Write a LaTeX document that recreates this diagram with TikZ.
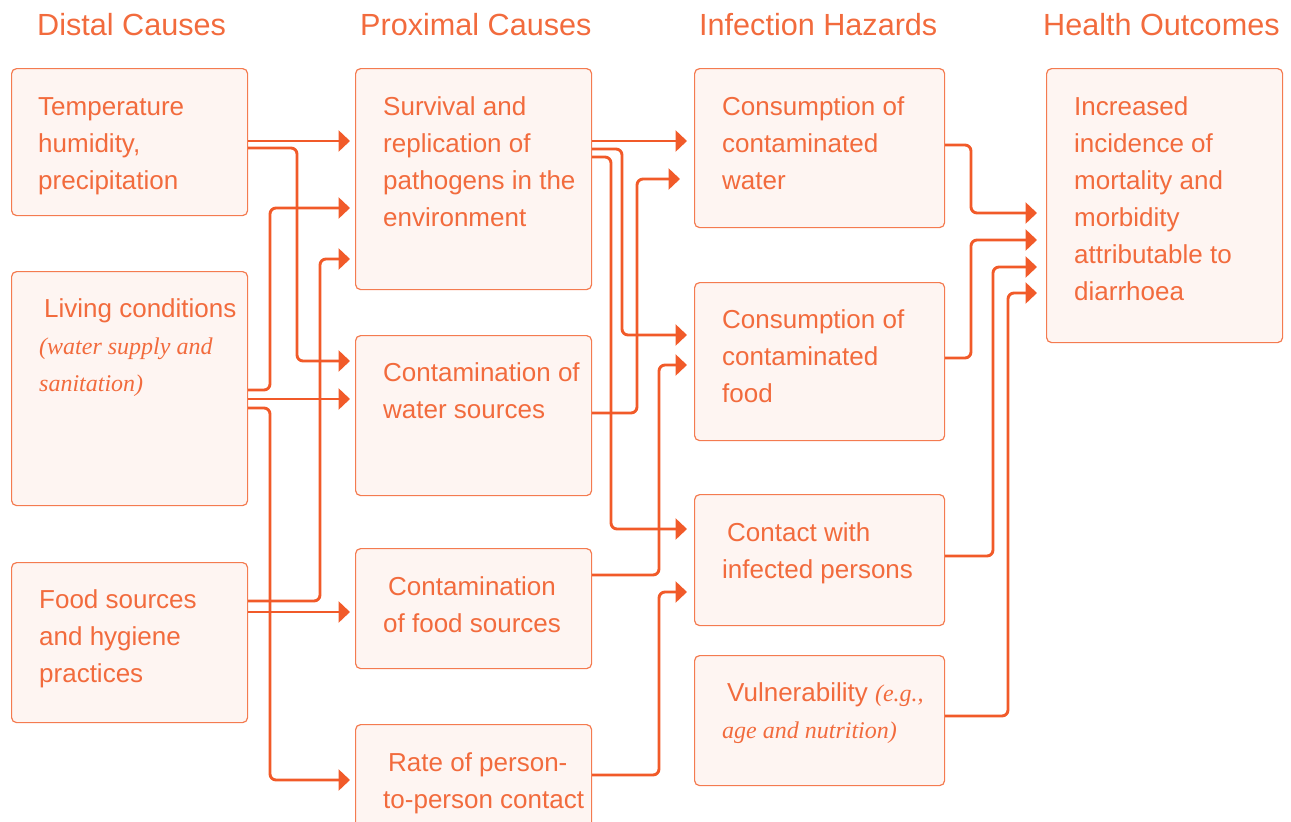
\documentclass[tikz,border=0pt]{standalone}
\usepackage{fontspec}
\setmainfont{Liberation Sans}
\newfontfamily\serifit{Liberation Serif}
\usetikzlibrary{arrows.meta}
\definecolor{linec}{HTML}{F15A29}
\definecolor{boxc}{HTML}{F47B50}
\definecolor{boxfill}{HTML}{FEF5F2}
\definecolor{txtc}{HTML}{F26B3D}
\newcommand{\ital}[1]{{\serifit\itshape\fontsize{24}{37}\selectfont #1}}
\tikzset{
  box/.style={draw=boxc, fill=boxfill, line width=1.2pt, rounded corners=5pt, anchor=north west, inner sep=0pt},
  txt/.style={anchor=north west, inner sep=0pt, align=left, text=txtc, font=\fontsize{26}{37}\selectfont},
  head/.style={anchor=base west, inner sep=0pt, text=txtc, font=\fontsize{30.6}{36}\selectfont},
  flow/.style={draw=linec, line width=2.9pt, rounded corners=6pt, -{Triangle[length=11.5pt,width=21pt]}}
}
\begin{document}
\begin{tikzpicture}[x=1pt,y=-1pt]
\useasboundingbox (0,0) rectangle (1291,822);
\clip (0,0) rectangle (1291,822);
% headings
\node[head] (hdist) at (37,35) {Distal Causes};
\node[head] (hprox) at (360,35) {Proximal Causes};
\node[head] (hinf) at (699,35) {Infection Hazards};
\node[head] (hout) at (1043,35) {Health Outcomes};
% boxes
\node[box, minimum width=236, minimum height=147] (tmp) at (11,68) {};
\node[box, minimum width=236, minimum height=234] (liv) at (11,271) {};
\node[box, minimum width=236, minimum height=160] (fds) at (11,562) {};
\node[box, minimum width=236, minimum height=221] (srv) at (355,68) {};
\node[box, minimum width=236, minimum height=160] (cwt) at (355,335) {};
\node[box, minimum width=236, minimum height=120] (cfd) at (355,548) {};
\node[box, minimum width=236, minimum height=130] (rpp) at (355,724) {};
\node[box, minimum width=250, minimum height=159] (wat) at (694,68) {};
\node[box, minimum width=250, minimum height=158] (fod) at (694,282) {};
\node[box, minimum width=250, minimum height=131] (cip) at (694,494) {};
\node[box, minimum width=250, minimum height=130] (vul) at (694,655) {};
\node[box, minimum width=236, minimum height=274] (out) at (1046,68) {};
% distal -> proximal
\draw[flow, shorten >=5pt] (tmp.east |- 0,141) -- (srv.west |- 0,141);
\draw[flow, shorten >=5pt] (tmp.east |- 0,148) -- (297,148) -- (297,361) -- (cwt.west |- 0,361);
\draw[flow, shorten >=5pt] (liv.east |- 0,390) -- (270,390) -- (270,208) -- (srv.west |- 0,208);
\draw[flow, shorten >=5pt] (fds.east |- 0,601) -- (320,601) -- (320,259) -- (srv.west |- 0,259);
\draw[flow, shorten >=5pt] (liv.east |- 0,399) -- (cwt.west |- 0,399);
\draw[flow, shorten >=5pt] (liv.east |- 0,408) -- (270,408) -- (270,780) -- (rpp.west |- 0,780);
\draw[flow, shorten >=5pt] (fds.east |- 0,612) -- (cfd.west |- 0,612);
% proximal -> hazards
\draw[flow, shorten >=7pt] (srv.east |- 0,141) -- (wat.west |- 0,141);
\draw[flow, shorten >=7pt] (srv.east |- 0,149) -- (622,149) -- (622,335) -- (fod.west |- 0,335);
\draw[flow, shorten >=7pt] (srv.east |- 0,157) -- (611,157) -- (611,529) -- (cip.west |- 0,529);
\draw[flow, shorten >=14pt] (cwt.east |- 0,413) -- (637,413) -- (637,179) -- (wat.west |- 0,179);
\draw[flow, shorten >=7pt] (cfd.east |- 0,575) -- (659,575) -- (659,365) -- (fod.west |- 0,365);
\draw[flow, shorten >=7pt] (rpp.east |- 0,775) -- (659,775) -- (659,592) -- (cip.west |- 0,592);
% hazards -> outcomes
\draw[flow, shorten >=9pt] (wat.east |- 0,145) -- (971,145) -- (971,213) -- (out.west |- 0,213);
\draw[flow, shorten >=9pt] (fod.east |- 0,358) -- (971,358) -- (971,240) -- (out.west |- 0,240);
\draw[flow, shorten >=9pt] (cip.east |- 0,556) -- (993,556) -- (993,267) -- (out.west |- 0,267);
\draw[flow, shorten >=9pt] (vul.east |- 0,716) -- (1008,716) -- (1008,293) -- (out.west |- 0,293);
% texts
\node[txt] (tmp-t) at (38,89.1) {\strut Temperature\\humidity,\\precipitation};
\node[txt] (liv-t) at (39,291.1) {\strut\hspace*{5pt}Living conditions\\\ital{(water supply and}\\\ital{sanitation)}};
\node[txt] (fds-t) at (39,582.1) {\strut Food sources\\and hygiene\\practices};
\node[txt] (srv-t) at (383,89.1) {\strut Survival and\\replication of\\pathogens in the\\environment};
\node[txt] (cwt-t) at (383,355.1) {\strut Contamination of\\water sources};
\node[txt] (cfd-t) at (383,569.1) {\strut\hspace*{5pt}Contamination\\of food sources};
\node[txt] (rpp-t) at (383,745.1) {\strut\hspace*{5pt}Rate of person-\\to-person contact};
\node[txt] (wat-t) at (722,89.1) {\strut Consumption of\\contaminated\\water};
\node[txt] (fod-t) at (722,302.1) {\strut Consumption of\\contaminated\\food};
\node[txt] (cip-t) at (722,515.1) {\strut\hspace*{5pt}Contact with\\infected persons};
\node[txt] (vul-t) at (722,675.1) {\strut\hspace*{5pt}Vulnerability \ital{(e.g.,}\\\ital{age and nutrition)}};
\node[txt] (out-t) at (1074,89.1) {\strut Increased\\incidence of\\mortality and\\morbidity\\attributable to\\diarrhoea};
\end{tikzpicture}
\end{document}
